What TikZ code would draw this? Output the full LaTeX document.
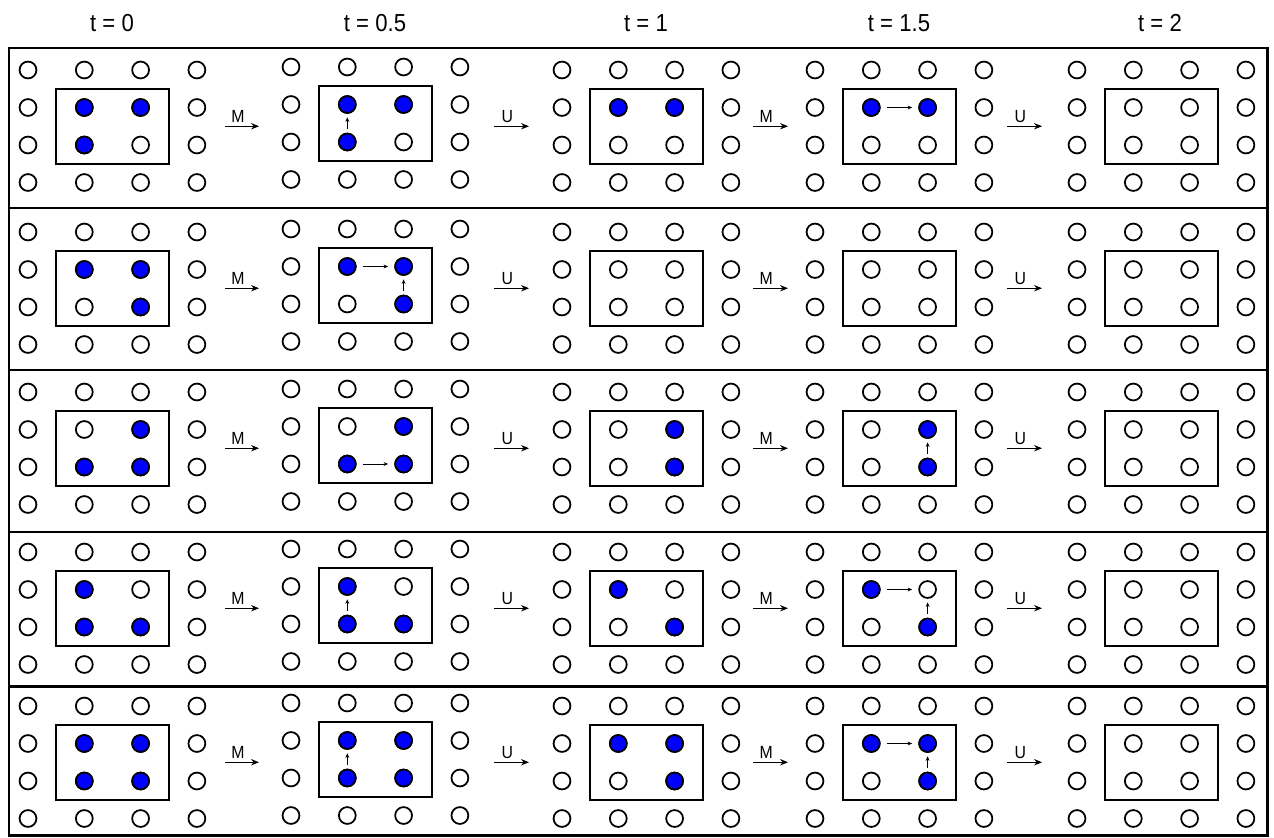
\documentclass[tikz,border=0pt]{standalone}
\usepackage{fontspec}
\setmainfont{Liberation Sans}
\newfontfamily\narrowsans[FakeStretch=0.9]{Liberation Sans}
\usepackage{tikz}
\usetikzlibrary{arrows.meta}
\definecolor{qblue}{HTML}{0000FF}

\begin{document}
\begin{tikzpicture}[
    x=0.02cm, y=-0.02cm,
    site/.style={circle,draw,line width=1pt,minimum size=9.6pt,inner sep=0pt,fill=white},
    occ/.style={site,fill=qblue},
    cellbox/.style={draw,line width=0.9pt},
    rowline/.style={line width=1.7pt},
    ttl/.style={font=\narrowsans\fontsize{14}{16}\selectfont},
    lbl/.style={font=\narrowsans\fontsize{10}{11}\selectfont,above,pos=0.38,inner sep=2pt},
    stagearr/.style={-{Stealth[length=4.5pt,width=3.6pt]},line width=0.6pt},
    mv/.style={-{Stealth[length=2.6pt,width=2.2pt]},line width=0.5pt,shorten >=3.5pt,shorten <=3.5pt},
    mvup/.style={mv,shorten >=2pt,shorten <=2.2pt}
]
\useasboundingbox (0,0) rectangle (1274,838);

% time labels
\node[ttl] (t1) at (112,23) {t = 0};
\node[ttl] (t2) at (375,23) {t = 0.5};
\node[ttl] (t3) at (646,23) {t = 1};
\node[ttl] (t4) at (899,23) {t = 1.5};
\node[ttl] (t5) at (1160,23) {t = 2};

% frame and row separators
\draw[rowline] (9,48) rectangle (1267,835);
\foreach \yy in {208,370,532,686}
  \draw[rowline] (9,\yy) -- (1267,\yy);

% lattice sites and the 2x2 boxes
\foreach \r/\ry in {1/70,2/232,3/392,4/552,5/706} {
  \foreach \k/\cx/\dy in {1/28/0,2/291/-3,3/562/0,4/815/0,5/1077/0} {
    \foreach \i in {1,...,4} {
      \foreach \j in {1,...,4} {
        \node[site] (c-\r-\k-\i-\j) at ({\cx+(\i-1)*56.3},{\ry+\dy+(\j-1)*37.5}) {};
      }
    }
    \draw[cellbox] ({\cx+28},{\ry+\dy+18.75}) rectangle ({\cx+141},{\ry+\dy+93.75});
  }
  % M / U steps
  \foreach \g/\xa/\xb/\op in {1/225/259/M,2/494/529/U,3/753/788/M,4/1007/1042/U} {
    \coordinate (s-\r-\g) at (\xa,{\ry+56.25});
    \coordinate (e-\r-\g) at (\xb,{\ry+56.25});
    \draw[stagearr] (s-\r-\g) -- node[lbl] {\op} (e-\r-\g);
  }
}

% occupied sites
\foreach \r/\k/\i/\j in {
    1/1/2/2,1/1/3/2,1/1/2/3, 1/2/2/2,1/2/3/2,1/2/2/3, 1/3/2/2,1/3/3/2, 1/4/2/2,1/4/3/2,
    2/1/2/2,2/1/3/2,2/1/3/3, 2/2/2/2,2/2/3/2,2/2/3/3,
    3/1/3/2,3/1/2/3,3/1/3/3, 3/2/3/2,3/2/2/3,3/2/3/3, 3/3/3/2,3/3/3/3, 3/4/3/2,3/4/3/3,
    4/1/2/2,4/1/2/3,4/1/3/3, 4/2/2/2,4/2/2/3,4/2/3/3, 4/3/2/2,4/3/3/3, 4/4/2/2,4/4/3/3,
    5/1/2/2,5/1/3/2,5/1/2/3,5/1/3/3, 5/2/2/2,5/2/3/2,5/2/2/3,5/2/3/3,
    5/3/2/2,5/3/3/2,5/3/3/3, 5/4/2/2,5/4/3/2,5/4/3/3}
  \node[occ] (q-\r-\k-\i-\j) at (c-\r-\k-\i-\j) {};

% moves
\draw[mvup] (c-1-2-2-3) -- (c-1-2-2-2);
\draw[mv] (c-1-4-2-2) -- (c-1-4-3-2);
\draw[mv] (c-2-2-2-2) -- (c-2-2-3-2);
\draw[mvup] (c-2-2-3-3) -- (c-2-2-3-2);
\draw[mv] (c-3-2-2-3) -- (c-3-2-3-3);
\draw[mvup] (c-3-4-3-3) -- (c-3-4-3-2);
\draw[mvup] (c-4-2-2-3) -- (c-4-2-2-2);
\draw[mv] (c-4-4-2-2) -- (c-4-4-3-2);
\draw[mvup] (c-4-4-3-3) -- (c-4-4-3-2);
\draw[mvup] (c-5-2-2-3) -- (c-5-2-2-2);
\draw[mv] (c-5-4-2-2) -- (c-5-4-3-2);
\draw[mvup] (c-5-4-3-3) -- (c-5-4-3-2);
\end{tikzpicture}
\end{document}
